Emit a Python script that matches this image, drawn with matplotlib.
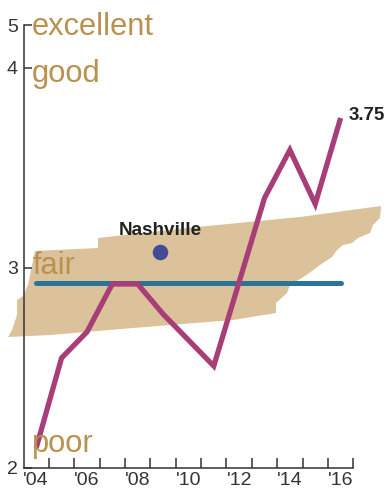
import matplotlib.pyplot as plt

years = [2004, 2005, 2006, 2007, 2008, 2009, 2010, 2011, 2012, 2013, 2014, 2015, 2016]
rating = [2.1, 2.55, 2.68, 2.92, 2.92, 2.77, 2.64, 2.51, 2.93, 3.35, 3.59, 3.32, 3.75]
average = [2.925] * len(years)
tick_vals = [2, 3, 4, 4.215]
tick_labels = ["2", "3", "4", "5"]
year_labels = ["'04", "'06", "'08", "'10", "'12", "'14", "'16"]
word_labels = ["excellent", "good", "fair", "poor"]
word_y = [4.165, 3.93, 2.97, 2.08]

# Tennessee outline in image pixels (background only)
state_x = [8, 12, 17, 17, 23, 28, 35, 98, 98, 187, 300, 381, 380, 373, 370, 358, 352, 343, 337,
           332, 320, 305, 290, 287, 276, 276, 233, 133, 50]
state_y = [337, 330, 315, 300, 296, 285, 251, 248, 238, 228, 217, 206, 218, 225, 233, 238, 243, 245, 250,
           257, 265, 276, 285, 293, 303, 313, 320, 328, 335]

plt.rcParams["font.family"] = ["Liberation Sans", "DejaVu Sans"]
fig = plt.figure(figsize=(3.86, 4.93), dpi=100)

bg = fig.add_axes([0, 0, 1, 1])
bg.set_xlim(0, 386)
bg.set_ylim(493, 0)
bg.axis("off")
bg.fill(state_x, state_y, color="#DCC29A", lw=0)

ax = fig.add_axes([23.5 / 386, 1 - 468 / 493, (353.3 - 23.5) / 386, (468 - 25) / 493])
ax.patch.set_visible(False)
ax.set_xlim(2003.5, 2016.5)
ax.set_ylim(2, 4.215)
ax.spines["top"].set_visible(False)
ax.spines["right"].set_visible(False)
for s in ["left", "bottom"]:
    ax.spines[s].set_color("#333333")
    ax.spines[s].set_linewidth(1.1)

ax.plot(years, average, color="#2A7498", lw=3.6, solid_capstyle="round", zorder=3)
ax.plot(years, rating, color="#A83E78", lw=3.8, solid_joinstyle="miter", solid_capstyle="butt", zorder=4, clip_on=False)
ax.scatter([2008.9], [3.08], s=125, color="#454A94", lw=0, zorder=5)

for w, y in zip(word_labels, word_y):
    ax.text(2003.84, y, w, color="#B8924E", fontsize=22.2, va="baseline", ha="left", zorder=6)

ax.text(2008.9, 3.165, "Nashville", fontsize=13.6, fontweight="bold", color="#222222", ha="center", va="baseline", zorder=6)
ax.text(2016.3, 3.74, "3.75", fontsize=13.4, fontweight="bold", color="#222222", ha="left", va="baseline", zorder=6, clip_on=False)

ax.set_yticks(tick_vals)
ax.set_yticklabels(tick_labels, fontsize=14, color="#333333")
ax.tick_params(axis="y", direction="in", length=6, width=1.1, color="#333333", pad=4)

ax.set_xticks([y + 0.5 for y in years])
ax.set_xticklabels([])
ax.set_xticks(years[::2], minor=True)
ax.set_xticklabels(year_labels, minor=True, fontsize=14, color="#333333")
ax.tick_params(axis="x", which="major", direction="in", length=7.2, width=1.1, color="#333333")
ax.tick_params(axis="x", which="minor", length=0, pad=3)

fig.savefig("out.png", dpi=100)
